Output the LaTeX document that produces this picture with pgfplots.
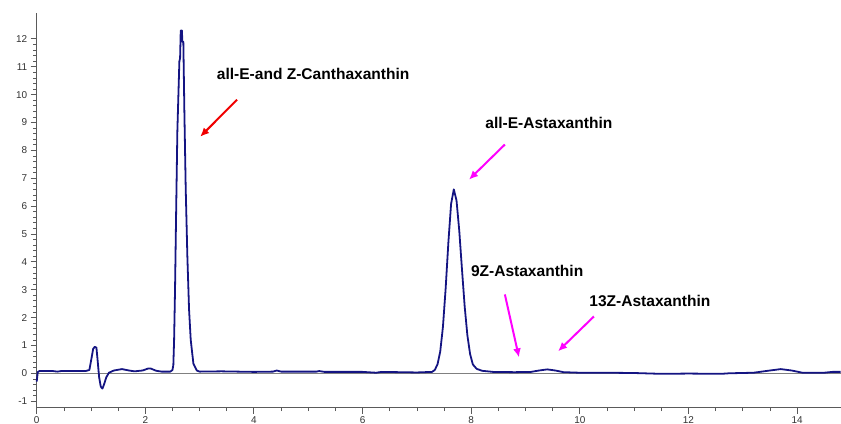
\documentclass[border=0pt]{standalone}
\usepackage{pgfplots}
\pgfplotsset{compat=1.18}
\usepackage{fontspec}
\setmainfont{Liberation Sans}
\usetikzlibrary{arrows.meta}
\definecolor{trace}{RGB}{20,20,130}
\definecolor{axgray}{RGB}{90,90,90}
\definecolor{mag}{RGB}{255,0,255}
\definecolor{rd}{RGB}{240,0,0}
\begin{document}
\begin{tikzpicture}
\useasboundingbox (-36.7bp,-16.3bp) rectangle (804.3bp,407.7bp);
\begin{axis}[
  at={(0,0)}, anchor=south west,
  scale only axis, width=803.8bp, height=394.7bp,
  xmin=0, xmax=14.8, ymin=-1.235, ymax=12.93,
  axis x line*=bottom, axis y line*=left,
  axis line style={axgray, line width=1pt, -},
  xtick={0,2,...,14}, ytick={-1,0,...,12},
  minor x tick num=3, minor y tick num=4,
  tick align=outside,
  major tick length=6bp, minor tick length=3.5bp,
  tick style={axgray, line width=0.9pt},
  minor tick style={axgray, line width=0.7pt},
  ticklabel style={font=\fontsize{10}{11}\selectfont, text=black!80},
  /pgf/number format/assume math mode=true,
  xticklabel style={yshift=1bp},
  clip=false,
]
\addplot[gray, line width=0.8pt, forget plot] coordinates {(0,0) (14.8,0)};
\addplot[trace, line width=1.8pt, line join=round] coordinates {
(0,-0.3) (0.02,0.05) (0.05,0.08) (0.3,0.08) (0.38,0.06) (0.45,0.08) (0.9,0.08)
(0.97,0.12) (1.01,0.55) (1.04,0.88) (1.07,0.95) (1.1,0.92) (1.12,0.5)
(1.15,-0.15) (1.18,-0.48) (1.21,-0.55) (1.24,-0.4) (1.28,-0.15) (1.33,0.02)
(1.42,0.1) (1.57,0.15) (1.7,0.1) (1.8,0.07) (1.95,0.1) (2.05,0.17) (2.1,0.17)
(2.2,0.09) (2.3,0.06) (2.46,0.06) (2.5,0.12)
(2.516,0.3) (2.53,1.2) (2.547,3.0) (2.566,5.6) (2.59,8.7) (2.627,11.2)
(2.64,11.3) (2.652,12.3) (2.675,12.3) (2.68,11.9) (2.70,11.9) (2.719,9.4)
(2.744,6.6) (2.774,4.2) (2.805,2.3) (2.836,1.2) (2.885,0.35) (2.947,0.1)
(3.0,0.06) (3.4,0.07) (4.0,0.05) (4.35,0.06) (4.42,0.1) (4.5,0.06) (5.15,0.06)
(5.2,0.08) (5.3,0.05) (6.0,0.05) (6.25,0.02) (6.35,0.05) (7.0,0.03) (7.28,0.05)
(7.33,0.12) (7.38,0.32) (7.43,0.78) (7.48,1.67) (7.53,3.05) (7.58,4.7)
(7.63,6.08) (7.68,6.6) (7.73,6.2) (7.78,5.13) (7.83,3.74) (7.88,2.4)
(7.93,1.36) (7.98,0.69) (8.03,0.32) (8.1,0.16) (8.2,0.09) (8.4,0.05)
(8.8,0.04) (9.1,0.05) (9.25,0.1) (9.4,0.14) (9.55,0.1) (9.7,0.04) (10.0,0.02)
(10.5,0.02) (11.0,0.01) (11.5,-0.02) (12.0,-0.01) (12.6,-0.02) (12.75,0.0)
(13.2,0.02) (13.5,0.1) (13.7,0.15) (13.9,0.1) (14.1,0.02) (14.5,0.02)
(14.65,0.05) (14.8,0.05)
};
\node[font=\fontsize{15.6}{18}\selectfont\bfseries] at (axis cs:5.09,10.74) {all-E-and Z-Canthaxanthin};
\draw[rd, line width=2pt, -{Latex[length=9bp,width=8bp]}] (axis cs:3.69,9.82) -- (axis cs:3.01,8.49);
\node[font=\fontsize{15.6}{18}\selectfont\bfseries] at (axis cs:9.43,9.0) {all-E-Astaxanthin};
\draw[mag, line width=2pt, -{Latex[length=9bp,width=8bp]}] (axis cs:8.62,8.21) -- (axis cs:7.96,6.95);
\node[font=\fontsize{15.6}{18}\selectfont\bfseries] at (axis cs:9.03,3.66) {9Z-Astaxanthin};
\draw[mag, line width=2pt, -{Latex[length=9bp,width=8bp]}] (axis cs:8.62,2.83) -- (axis cs:8.88,0.57);
\node[font=\fontsize{15.6}{18}\selectfont\bfseries] at (axis cs:11.29,2.58) {13Z-Astaxanthin};
\draw[mag, line width=2pt, -{Latex[length=9bp,width=8bp]}] (axis cs:10.26,2.04) -- (axis cs:9.60,0.79);
\end{axis}
\end{tikzpicture}
\end{document}
